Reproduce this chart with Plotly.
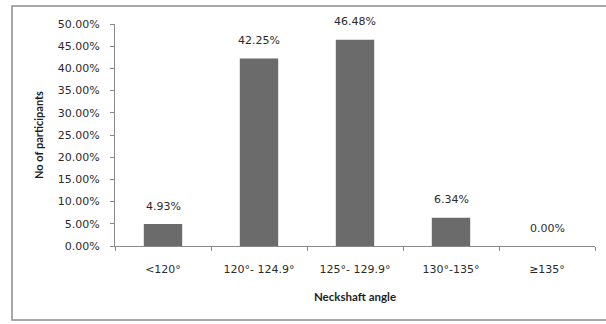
import plotly.graph_objects as go

categories = ["<120°", "120°- 124.9°", "125°- 129.9°", "130°-135°", "≥135°"]
values = [0.0493, 0.4225, 0.4648, 0.0634, 0.0]
y_ticks = [0.0, 0.05, 0.10, 0.15, 0.20, 0.25, 0.30, 0.35, 0.40, 0.45, 0.50]

TXT = "#2b2b2b"
FONT = "DejaVu Sans"

fig = go.Figure()
fig.add_trace(go.Bar(
    x=categories, y=values,
    marker=dict(color="#6b6b6b", line=dict(width=0)),
    width=0.4,
    hoverinfo="skip",
))

for c, v in zip(categories, values):
    fig.add_annotation(x=c, y=v, text=f"{v*100:.2f}%", showarrow=False,
                       yanchor="middle", yshift=18,
                       font=dict(family=FONT, size=11, color=TXT))

fig.update_layout(
    width=606, height=324,
    margin=dict(l=115, r=11, t=24, b=78, autoexpand=False),
    paper_bgcolor="white", plot_bgcolor="white",
    showlegend=False,
    font=dict(family=FONT, size=11, color=TXT),
    xaxis=dict(
        type="category", automargin=False,
        showline=True, linecolor="#8a8a8a", linewidth=1,
        ticks="outside", tickson="boundaries", ticklen=4, tickcolor="#8a8a8a",
        ticklabelstandoff=13,
        tickfont=dict(family=FONT, size=11, color=TXT),
        title=dict(text="Neckshaft angle", standoff=17,
                   font=dict(family="Lato", size=11.5, color="#1e1e1e", weight="bold")),
        showgrid=False, zeroline=False,
    ),
    yaxis=dict(
        range=[0, 0.5], automargin=False,
        tickvals=y_ticks, tickformat=".2%",
        showline=True, linecolor="#8a8a8a", linewidth=1,
        ticks="outside", ticklen=4, tickcolor="#8a8a8a",
        ticklabelstandoff=8,
        tickfont=dict(family=FONT, size=11, color=TXT),
        title=dict(text="No of participants", standoff=11,
                   font=dict(family="Lato", size=11, color="#1e1e1e", weight="bold")),
        showgrid=False, zeroline=False,
    ),
    shapes=[dict(type="rect", xref="paper", yref="paper",
                 x0=(12 - 115) / 480, x1=(612 - 115) / 480,
                 y0=(246 - 320) / 222, y1=(246 - 6) / 222,
                 line=dict(color="#8c8c8c", width=1.5), layer="below")],
)

fig.write_html("out.html",
               config={"displayModeBar": False},
               post_script="document.body.style.margin='0';document.body.style.overflow='hidden';")
